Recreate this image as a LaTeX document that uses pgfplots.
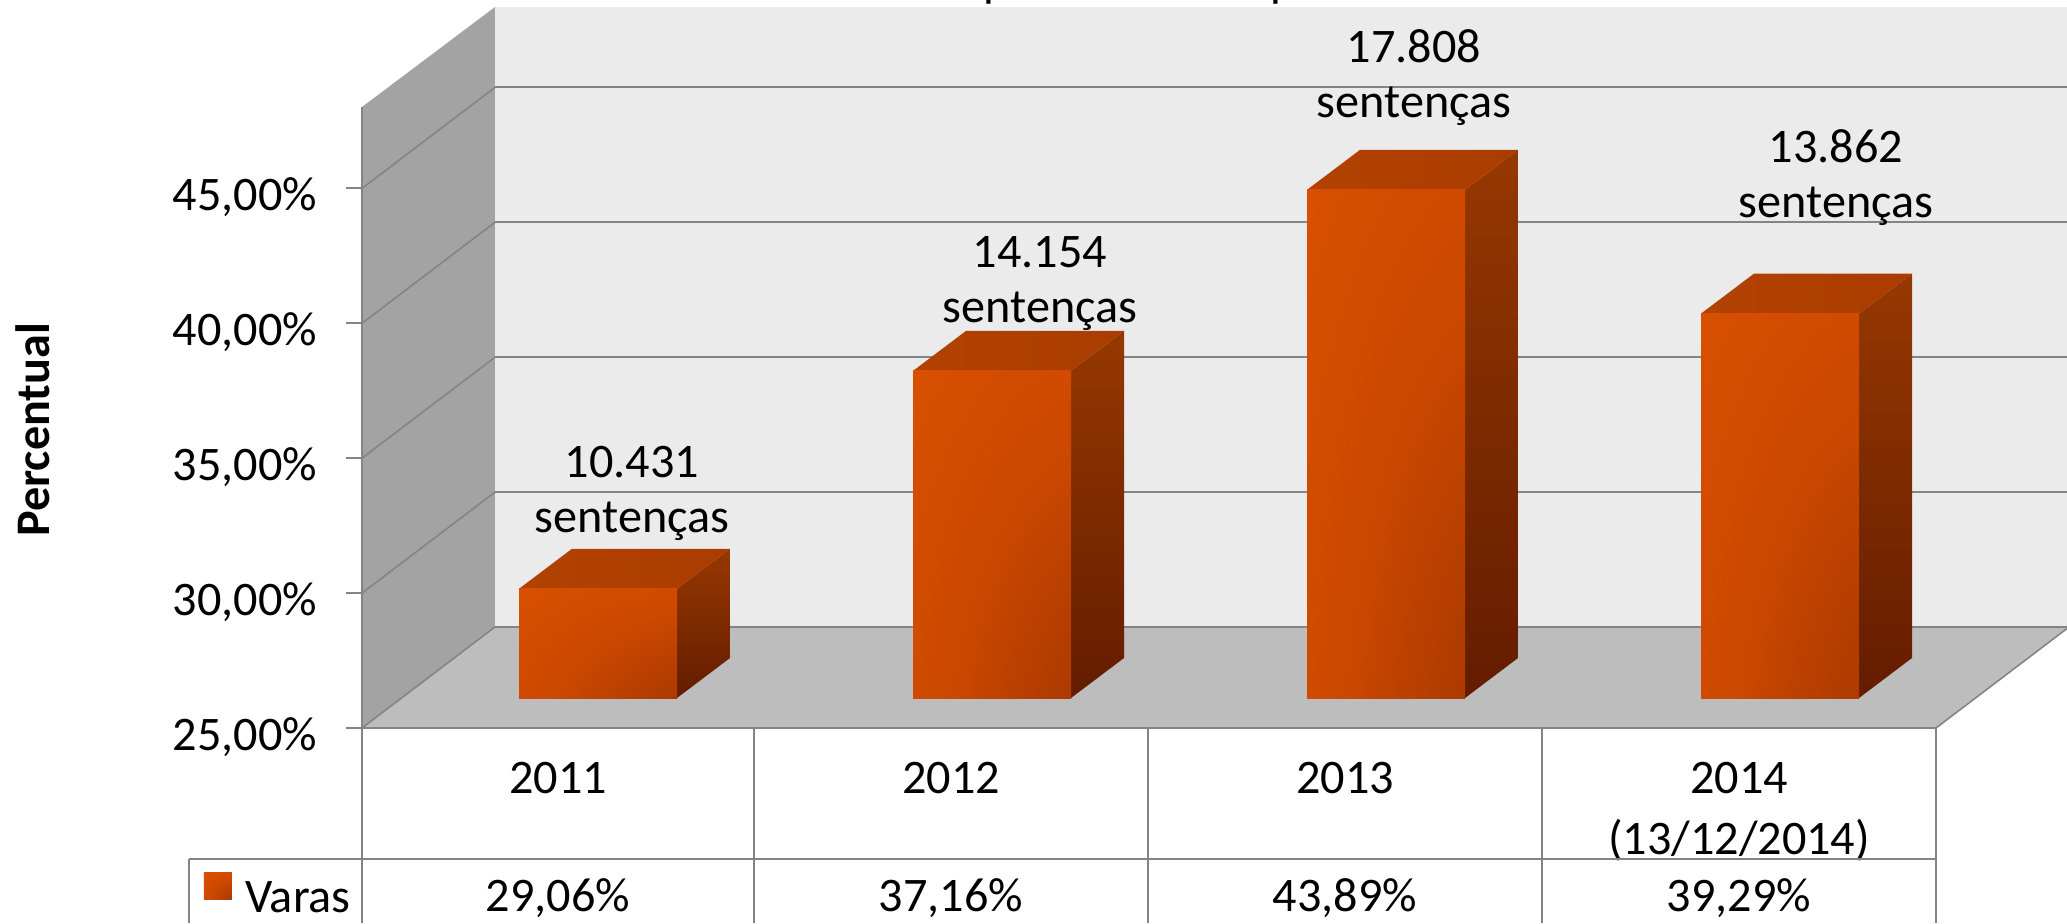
\documentclass[border=0pt]{standalone}
\usepackage{pgfplots}
\pgfplotsset{compat=1.18}
\usepackage{fontspec}
\setmainfont{Carlito}
\definecolor{gridc}{HTML}{848484}
\definecolor{bf0}{HTML}{943000}
\definecolor{bf1}{HTML}{B03C00}
\definecolor{bf2}{HTML}{CC4800}
\definecolor{bf3}{HTML}{D84F00}
\definecolor{bf4}{HTML}{E65600}
\pgfdeclareradialshading{barfront}{\pgfpoint{50bp}{-50bp}}{%
 color(0bp)=(bf0);
 color(30bp)=(bf1);
 color(52bp)=(bf2);
 color(78bp)=(bf3);
 color(98bp)=(bf4);
 color(200bp)=(bf4)}
\newcommand{\fs}{\fontsize{24.1}{27.7}\selectfont}
\pgfplotsset{
 base/.style={scale only axis, width=852.5pt, height=461.5pt, at={(0,0)}, anchor=south west, xmin=362, xmax=2067, clip=false},
 front/.style={shading=barfront, draw=none},
 side/.style={draw=none, shade, top color=barside1, bottom color=barside2},
 topf/.style={draw=none, shade, left color=bartop1, right color=bartop2},
}
\definecolor{barside1}{HTML}{963800}
\definecolor{barside2}{HTML}{641C00}
\definecolor{bartop1}{HTML}{B24200}
\definecolor{bartop2}{HTML}{AA3C00}
\begin{document}
\begin{tikzpicture}
\useasboundingbox (-181pt,0pt) rectangle (852.5pt,461.5pt);
\clip (-181pt,0pt) rectangle (852.5pt,461.5pt);
\begin{axis}[base, ymin=17.772, ymax=51.983,
  axis line style={draw=none},
  ytick={25,30,35,40,45},
  xtick={558,951,1345,1739},
  xticklabels={2011,2012,2013,{2014\\[3pt](13/12/2014)}},
  major x tick style={draw=none},
  major y tick style={draw=gridc, line width=1pt},
  tickwidth=8pt,
  ytick pos=left, xtick pos=bottom,
  tick align=outside,
  grid=none,
  yticklabel={\pgfmathprintnumber{\tick}\%},
  /pgf/number format/.cd, fixed, fixed zerofill, precision=2, use comma, assume math mode=true,
  /pgfplots/.cd,
  tick label style={font=\fs},
  yticklabel style={xshift=-11pt, yshift=-4.5pt},
  xticklabel style={align=center, anchor=north, yshift=92pt},
  ylabel={\textbf{Percentual}},
  every axis y label/.style={at={(axis cs:33,36.05)}, rotate=90, anchor=center, font=\fs},
]
% back wall
\addplot[fill=black!8!white, draw=none] coordinates {(495,28.743)(2067,28.743)(2067,51.724)(495,51.724)} -- cycle;
% floor
\addplot[fill=black!26!white, draw=none] coordinates {(362,25)(1936,25)(2069,28.743)(495,28.743)} -- cycle;
% left wall
\addplot[fill=black!36!white, draw=none] coordinates {(362,25)(495,28.743)(495,51.724)(362,48.017)} -- cycle;
% back gridlines
\addplot[gridc, line width=1pt] coordinates {(495,28.743)(2067,28.743)};
\addplot[gridc, line width=1pt] coordinates {(495,33.743)(2067,33.743)};
\addplot[gridc, line width=1pt] coordinates {(495,38.743)(2067,38.743)};
\addplot[gridc, line width=1pt] coordinates {(495,43.743)(2067,43.743)};
\addplot[gridc, line width=1pt] coordinates {(495,48.743)(2067,48.743)};
% wall gridlines
\addplot[gridc, line width=.8pt] coordinates {(362,25)(495,28.743)};
\addplot[gridc, line width=.8pt] coordinates {(362,30)(495,33.743)};
\addplot[gridc, line width=.8pt] coordinates {(362,35)(495,38.743)};
\addplot[gridc, line width=.8pt] coordinates {(362,40)(495,43.743)};
\addplot[gridc, line width=.8pt] coordinates {(362,45)(495,48.743)};
\addplot[gridc, line width=.8pt] coordinates {(1936,25)(2069,28.743)};
% y axis and table
\addplot[gridc, line width=1pt] coordinates {(362,48.017)(362,17.772)};
\addplot[gridc, line width=1.2pt] coordinates {(362,25)(1936,25)};
\addplot[gridc, line width=1pt] coordinates {(189,20.145)(1936,20.145)};
\addplot[gridc, line width=1pt] coordinates {(189,20.145)(189,17.772)};
\addplot[gridc, line width=1pt] coordinates {(754,25)(754,17.772)};
\addplot[gridc, line width=1pt] coordinates {(1148,25)(1148,17.772)};
\addplot[gridc, line width=1pt] coordinates {(1542,25)(1542,17.772)};
\addplot[gridc, line width=1pt] coordinates {(1936,25)(1936,17.772)};
% table text
\node[font=\fs] at (axis cs:298,18.71) {Varas};
\fill[shading=barfront] (axis cs:204,19.65) rectangle (axis cs:232,18.65);
\node[font=\fs] at (axis cs:558,18.71) {29,06\%};
\node[font=\fs] at (axis cs:951,18.71) {37,16\%};
\node[font=\fs] at (axis cs:1345,18.71) {43,89\%};
\node[font=\fs] at (axis cs:1739,18.71) {39,29\%};
% title, cut off by the top edge of the picture
\node[font=\fs, anchor=base] at (axis cs:996,52.13) {p};
\node[font=\fs, anchor=base] at (axis cs:1283,52.13) {p};
\end{axis}
\begin{axis}[base, hide axis, ymin=16.636, ymax=50.948]
% 2011
\addplot[side] coordinates {(677,25)(730,26.487)(730,30.547)(677,29.06)} -- cycle;
\addplot[topf] coordinates {(519,29.06)(677,29.06)(730,30.547)(572,30.547)} -- cycle;
\addplot[front] coordinates {(519,25)(677,25)(677,29.06)(519,29.06)} -- cycle;
% 2012
\addplot[side] coordinates {(1071,25)(1124,26.487)(1124,38.647)(1071,37.16)} -- cycle;
\addplot[topf] coordinates {(913,37.16)(1071,37.16)(1124,38.647)(966,38.647)} -- cycle;
\addplot[front] coordinates {(913,25)(1071,25)(1071,37.16)(913,37.16)} -- cycle;
% 2013
\addplot[side] coordinates {(1465,25)(1518,26.487)(1518,45.377)(1465,43.89)} -- cycle;
\addplot[topf] coordinates {(1307,43.89)(1465,43.89)(1518,45.377)(1360,45.377)} -- cycle;
\addplot[front] coordinates {(1307,25)(1465,25)(1465,43.89)(1307,43.89)} -- cycle;
% 2014
\addplot[side] coordinates {(1859,25)(1912,26.487)(1912,40.777)(1859,39.29)} -- cycle;
\addplot[topf] coordinates {(1701,39.29)(1859,39.29)(1912,40.777)(1754,40.777)} -- cycle;
\addplot[front] coordinates {(1701,25)(1859,25)(1859,39.29)(1701,39.29)} -- cycle;
% labels
\node[font=\fs, align=center] at (axis cs:632,32.60) {10.431\\sentenças};
\node[font=\fs, align=center] at (axis cs:1040,40.41) {14.154\\sentenças};
\node[font=\fs, align=center] at (axis cs:1414,48.06) {17.808\\sentenças};
\node[font=\fs, align=center] at (axis cs:1836,44.34) {13.862\\sentenças};
\end{axis}
\end{tikzpicture}
\end{document}
